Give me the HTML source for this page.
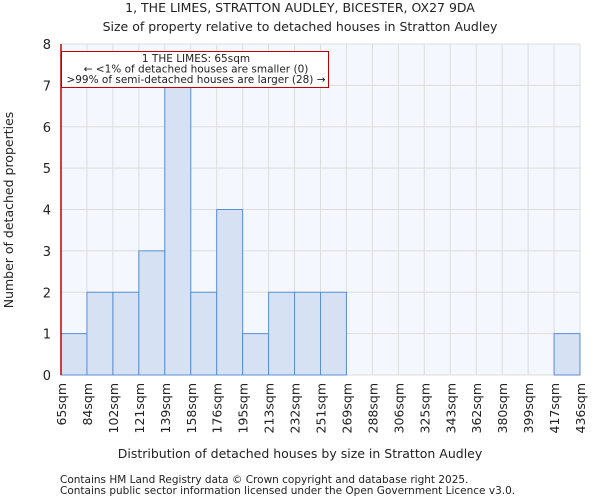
<!DOCTYPE html>
<html><head><meta charset="utf-8"><style>
body{margin:0;background:#fff;font-family:"DejaVu Sans","Liberation Sans",sans-serif;}
svg text{font-family:"DejaVu Sans","Liberation Sans",sans-serif;fill:#222}
</style></head><body>
<svg id="c" width="600" height="500">
<text x="300" y="12" font-size="12.5" text-anchor="middle">1, THE LIMES, STRATTON AUDLEY, BICESTER, OX27 9DA</text>
<text x="300" y="31" font-size="12.5" text-anchor="middle">Size of property relative to detached houses in Stratton Audley</text>
<g id="g"></g>
<text x="300" y="458" font-size="12.5" text-anchor="middle">Distribution of detached houses by size in Stratton Audley</text>
<text transform="translate(13,210) rotate(-90)" font-size="12.5" text-anchor="middle">Number of detached properties</text>
<text x="60" y="483" font-size="10.5" fill="#444">Contains HM Land Registry data © Crown copyright and database right 2025.</text>
<text x="60" y="494" font-size="10.5" fill="#444">Contains public sector information licensed under the Open Government Licence v3.0.</text>
</svg>
<script>
const binEdges=[65,84,102,121,139,158,176,195,213,232,251,269,288,306,325,343,362,380,399,417,436];
const counts=[1,2,2,3,7,2,4,1,2,2,2,0,0,0,0,0,0,0,0,1];
const yTicks=[0,1,2,3,4,5,6,7,8];
const propertySize=65;
const L=61,R=580,T=44,B=375,yMax=8;
const NS="http://www.w3.org/2000/svg";
const g=document.getElementById('g');
const nb=counts.length;
const xi=i=>L+(R-L)*i/nb;
const xv=v=>{for(let i=0;i<nb;i++){if(v<=binEdges[i+1])return xi(i)+(v-binEdges[i])/(binEdges[i+1]-binEdges[i])*(R-L)/nb;}return R;};
const y=v=>B-(B-T)*v/yMax;
function mk(t,a){const e=document.createElementNS(NS,t);for(const k in a)e.setAttribute(k,a[k]);g.appendChild(e);return e;}
let bg=mk('rect',{x:L,y:T,width:R-L,height:B-T,fill:'#f4f7fd'});


for(let i=0;i<=nb;i++){let l=mk('line',{x1:xi(i),x2:xi(i),y1:T,y2:B,stroke:'#dddddd','stroke-width':1});

}
yTicks.forEach(t=>{let l=mk('line',{x1:L,x2:R,y1:y(t),y2:y(t),stroke:'#dddddd','stroke-width':1});


let tx=mk('text',{x:L-10,y:y(t)+5,'font-size':13,'text-anchor':'end'});tx.textContent=t;

});
counts.forEach((c,i)=>{if(c<=0)return;let r=mk('rect',{x:xi(i),y:y(c),width:xi(i+1)-xi(i),height:B-y(c),fill:'#d6e1f3',stroke:'#5b8fd6','stroke-width':1});

});
binEdges.forEach((e,i)=>{let tx=mk('text',{transform:`translate(${xi(i)+5},383) rotate(-90)`,'font-size':12.5,'text-anchor':'end'});tx.textContent=e+'sqm';

});
let pl=mk('line',{x1:xv(propertySize),x2:xv(propertySize),y1:T,y2:B,stroke:'#c00000','stroke-width':1.5});


let box=mk('rect',{x:61.5,y:51.5,width:267,height:36,fill:'#fff',stroke:'#c00000','stroke-width':1});


["1 THE LIMES: 65sqm","← <1% of detached houses are smaller (0)",">99% of semi-detached houses are larger (28) →"].forEach((s,i)=>{
let tx=mk('text',{x:196,y:62+i*10.5,'font-size':10.5,'text-anchor':'middle'});tx.textContent=s;

});
</script>
</body></html>
